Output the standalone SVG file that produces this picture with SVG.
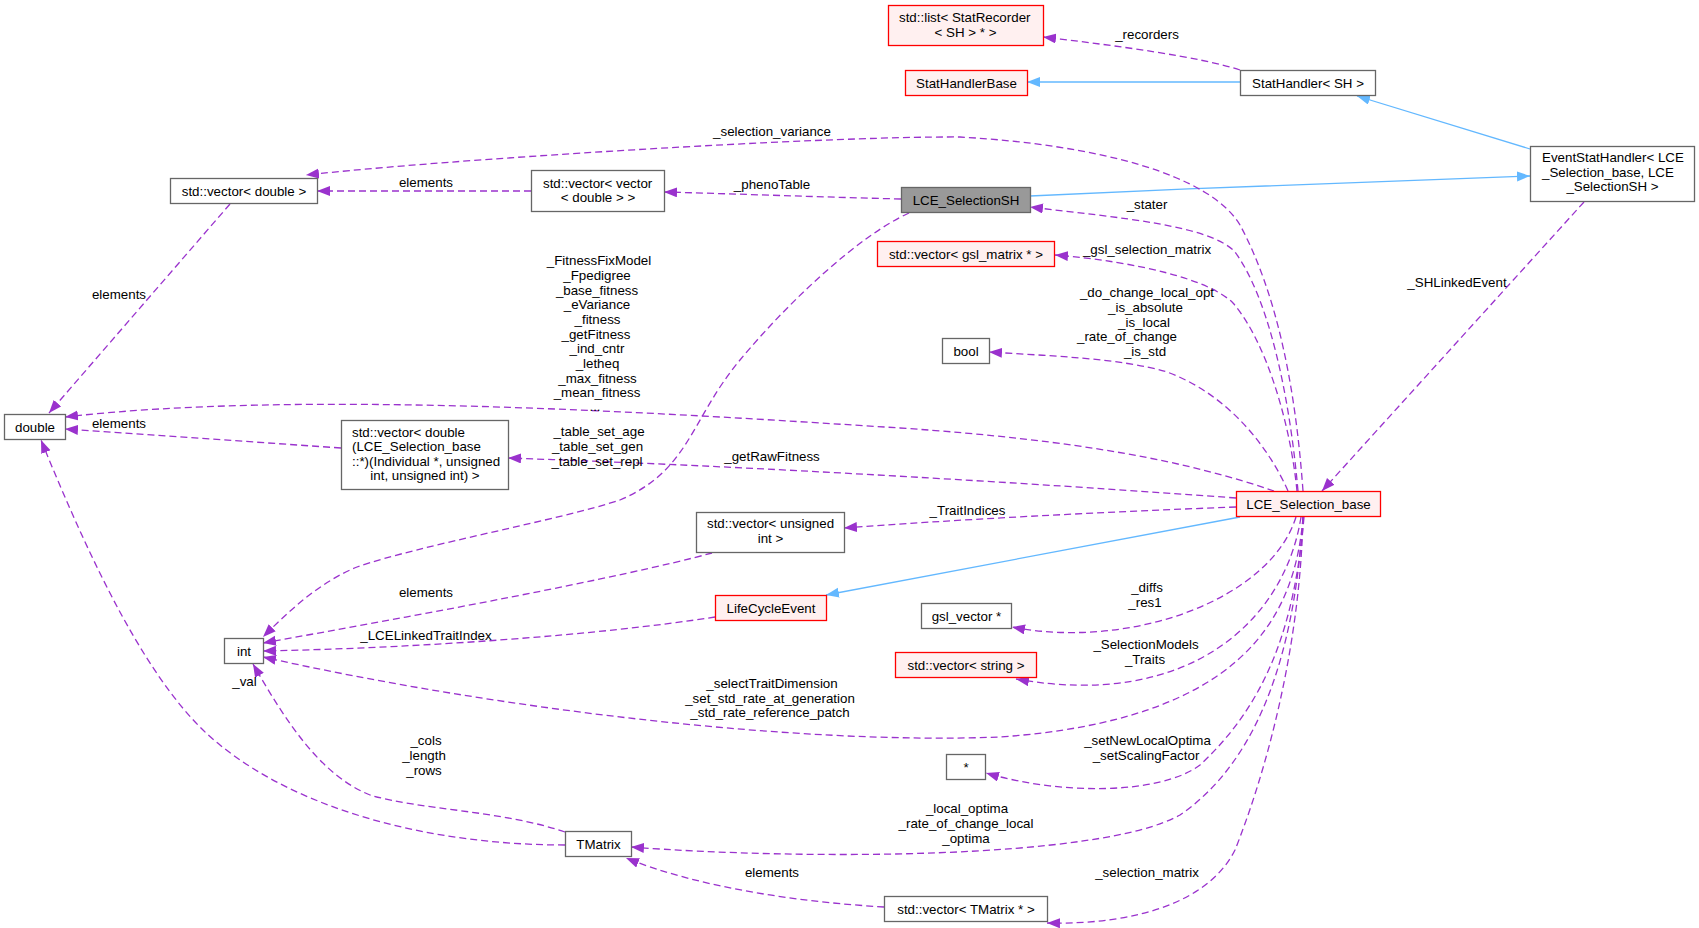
<svg xmlns="http://www.w3.org/2000/svg" width="1699" height="928" viewBox="0 0 1699 928">
<style>
text{font-family:"Liberation Sans",Arial,sans-serif;font-size:13.33px;fill:#000}
.m{text-anchor:middle}
.n rect{fill:#fff;stroke:#666;stroke-width:1.3}
.r rect{fill:#fff0f0;stroke:#f00;stroke-width:1.3}
.g rect{fill:#999;stroke:#666;stroke-width:1.3}
.e{fill:none;stroke:#9a32cd;stroke-width:1.3;stroke-dasharray:7,4;marker-end:url(#ap)}
.b{fill:none;stroke:#63b8ff;stroke-width:1.3;marker-end:url(#ab)}
</style>
<defs>
<marker id="ap" markerUnits="userSpaceOnUse" markerWidth="14" markerHeight="11" refX="13" refY="5" orient="auto" viewBox="0 0 14 11"><path d="M0,0 L13,5 L0,10 z" fill="#9a32cd"/></marker>
<marker id="ab" markerUnits="userSpaceOnUse" markerWidth="14" markerHeight="11" refX="13" refY="5" orient="auto" viewBox="0 0 14 11"><path d="M0,0 L13,5 L0,10 z" fill="#63b8ff"/></marker>
</defs>
<rect width="1699" height="928" fill="#fff"/>
<g id="connectors">
<path class="e" d="M1240,70 C1200,57 1120,46 1043,37"/>
<path class="b" d="M1240,82 L1027,82"/>
<path class="b" d="M1530,149 L1357,96"/>
<path class="b" d="M1030,196 C1200,188 1400,180 1530,176"/>
<path class="e" d="M901,199 C820,197 740,194 664,192"/>
<path class="e" d="M909,213 C860,235 790,300 740,360 C690,420 690,470 620,500 C560,520 420,545 357,567 C320,582 290,610 263,637"/>
<path class="e" d="M531,191 L317,191"/>
<path class="e" d="M230,204 L49,413"/>
<path class="e" d="M1303,491 C1295,380 1275,290 1240,225 C1210,175 1100,145 960,137 C820,136 440,160 306,175"/>
<path class="e" d="M1298,491 C1290,400 1270,300 1235,252 C1210,225 1120,218 1030,207"/>
<path class="e" d="M1297,491 C1290,420 1265,340 1233,303 C1210,280 1140,262 1055,255"/>
<path class="e" d="M1288,491 C1270,450 1230,395 1167,372 C1120,358 1050,356 989,352"/>
<path class="e" d="M1274,491 C1190,462 1080,440 900,428 C650,412 300,390 65,417"/>
<path class="e" d="M341,448 L65,429"/>
<path class="e" d="M1236,498 C1100,488 800,468 508,458"/>
<path class="e" d="M1236,507 C1100,512 950,520 844,528"/>
<path class="b" d="M1240,517 L826,595"/>
<path class="e" d="M712,553 C620,578 420,615 263,643"/>
<path class="e" d="M715,617 C600,635 420,648 263,651"/>
<path class="e" d="M1296,517 C1270,600 1130,650 1012,627"/>
<path class="e" d="M1301,517 C1285,620 1190,710 1016,679"/>
<path class="e" d="M1303,517 C1295,620 1240,720 1000,737 C800,745 500,710 263,657"/>
<path class="e" d="M1304,517 C1295,620 1270,700 1200,765 C1160,795 1060,795 986,773"/>
<path class="e" d="M1303,517 C1295,650 1260,760 1180,815 C1100,860 800,860 631,847"/>
<path class="e" d="M1303,517 C1300,650 1265,775 1235,850 C1210,900 1140,925 1047,923"/>
<path class="e" d="M884,907 C800,902 700,888 626,858"/>
<path class="e" d="M565,832 C500,810 420,810 370,795 C320,775 285,720 253,664"/>
<path class="e" d="M565,845 C430,845 300,810 220,745 C150,690 90,560 41,440"/>
<path class="e" d="M1584,202 L1322,491"/>
<g id="edge-labels" class="m">
<text x="1147" y="39">_recorders</text>
<text x="772" y="136">_selection_variance</text>
<text x="426" y="187">elements</text>
<text x="772" y="189">_phenoTable</text>
<text x="1147" y="209">_stater</text>
<text x="1147" y="253.5">_gsl_selection_matrix</text>
<text x="1147" y="297">_do_change_local_opt</text>
<text x="1145.5" y="312">_is_absolute</text>
<text x="1144" y="327">_is_local</text>
<text x="1127" y="341">_rate_of_change</text>
<text x="1145" y="356">_is_std</text>
<text x="1457" y="287">_SHLinkedEvent</text>
<text x="119" y="299">elements</text>
<text x="119" y="428">elements</text>
<text x="599" y="264.5">_FitnessFixModel</text>
<text x="597" y="279.5">_Fpedigree</text>
<text x="597" y="294.5">_base_fitness</text>
<text x="597" y="309">_eVariance</text>
<text x="597.5" y="324">_fitness</text>
<text x="596" y="338.5">_getFitness</text>
<text x="597" y="353">_ind_cntr</text>
<text x="597.5" y="367.5">_letheq</text>
<text x="597.5" y="383">_max_fitness</text>
<text x="597" y="397">_mean_fitness</text>
<text x="595" y="411">...</text>
<text x="599" y="436">_table_set_age</text>
<text x="597.5" y="451">_table_set_gen</text>
<text x="597" y="465.5">_table_set_repl</text>
<text x="772" y="461">_getRawFitness</text>
<text x="967.5" y="515">_TraitIndices</text>
<text x="426" y="597">elements</text>
<text x="426" y="639.5">_LCELinkedTraitIndex</text>
<text x="244.5" y="685.5">_val</text>
<text x="426" y="745">_cols</text>
<text x="424" y="760">_length</text>
<text x="424" y="775">_rows</text>
<text x="1147" y="591.5">_diffs</text>
<text x="1145" y="607">_res1</text>
<text x="1146" y="648.5">_SelectionModels</text>
<text x="1145" y="663.5">_Traits</text>
<text x="772" y="687.5">_selectTraitDimension</text>
<text x="770" y="703">_set_std_rate_at_generation</text>
<text x="770" y="717">_std_rate_reference_patch</text>
<text x="1147.5" y="745">_setNewLocalOptima</text>
<text x="1146" y="760">_setScalingFactor</text>
<text x="967" y="813">_local_optima</text>
<text x="966" y="828">_rate_of_change_local</text>
<text x="966" y="843">_optima</text>
<text x="772" y="877">elements</text>
<text x="1147" y="877">_selection_matrix</text>
</g>
</g>
<g id="n-list" class="r"><rect x="888.5" y="5.5" width="155" height="40"/><text x="899" y="22">std::list&lt; StatRecorder</text><text class="m" x="965.5" y="36.5">&lt; SH &gt; * &gt;</text></g>
<g id="n-stathandlerbase" class="r"><rect x="905.5" y="70.5" width="122" height="25"/><text class="m" x="966.5" y="87.5">StatHandlerBase</text></g>
<g id="n-stathandler" class="n"><rect x="1240.5" y="70.5" width="135" height="25"/><text class="m" x="1308" y="87.5">StatHandler&lt; SH &gt;</text></g>
<g id="n-eventstathandler" class="n"><rect x="1530.5" y="146.5" width="164" height="55"/><text x="1542" y="162">EventStatHandler&lt; LCE</text><text x="1542" y="176.5">_Selection_base, LCE</text><text class="m" x="1612.5" y="191">_SelectionSH &gt;</text></g>
<g id="n-vecdouble" class="n"><rect x="170.5" y="178.5" width="147" height="25"/><text class="m" x="244" y="195.5">std::vector&lt; double &gt;</text></g>
<g id="n-vecvec" class="n"><rect x="531.5" y="170.5" width="133" height="41"/><text x="543" y="187.5">std::vector&lt; vector</text><text class="m" x="598" y="202">&lt; double &gt; &gt;</text></g>
<g id="n-lceselectionsh" class="g"><rect x="901.5" y="187.5" width="129" height="25"/><text class="m" x="966" y="204.5">LCE_SelectionSH</text></g>
<g id="n-vecgslmatrix" class="r"><rect x="877.5" y="241.5" width="177" height="25"/><text class="m" x="966" y="258.5">std::vector&lt; gsl_matrix * &gt;</text></g>
<g id="n-bool" class="n"><rect x="942.5" y="338.5" width="47" height="25"/><text class="m" x="966" y="355.5">bool</text></g>
<g id="n-double" class="n"><rect x="4.5" y="414.5" width="61" height="25"/><text class="m" x="35" y="431.5">double</text></g>
<g id="n-vecfunc" class="n"><rect x="341.5" y="420.5" width="167" height="69"/><text x="352" y="436.5">std::vector&lt; double</text><text x="352" y="451">(LCE_Selection_base</text><text x="352" y="465.5">::*)(Individual *, unsigned</text><text class="m" x="425" y="480">int, unsigned int) &gt;</text></g>
<g id="n-vecunsigned" class="n"><rect x="696.5" y="512.5" width="148" height="40"/><text x="707" y="528">std::vector&lt; unsigned</text><text class="m" x="770.5" y="542.5">int &gt;</text></g>
<g id="n-lceselectionbase" class="r"><rect x="1236.5" y="491.5" width="144" height="25"/><text class="m" x="1308.5" y="508.5">LCE_Selection_base</text></g>
<g id="n-lifecycleevent" class="r"><rect x="715.5" y="595.5" width="111" height="25"/><text class="m" x="771" y="612.5">LifeCycleEvent</text></g>
<g id="n-gslvector" class="n"><rect x="921.5" y="603.5" width="90" height="25"/><text class="m" x="966.5" y="620.5">gsl_vector *</text></g>
<g id="n-int" class="n"><rect x="224.5" y="638.5" width="39" height="25"/><text class="m" x="244" y="655.5">int</text></g>
<g id="n-vecstring" class="r"><rect x="895.5" y="652.5" width="141" height="25"/><text class="m" x="966" y="669.5">std::vector&lt; string &gt;</text></g>
<g id="n-star" class="n"><rect x="946.5" y="754.5" width="39" height="25"/><text class="m" x="966" y="771.5">*</text></g>
<g id="n-tmatrix" class="n"><rect x="565.5" y="831.5" width="66" height="25"/><text class="m" x="598.5" y="848.5">TMatrix</text></g>
<g id="n-vectmatrix" class="n"><rect x="884.5" y="896.5" width="163" height="25"/><text class="m" x="966" y="913.5">std::vector&lt; TMatrix * &gt;</text></g>
</svg>
